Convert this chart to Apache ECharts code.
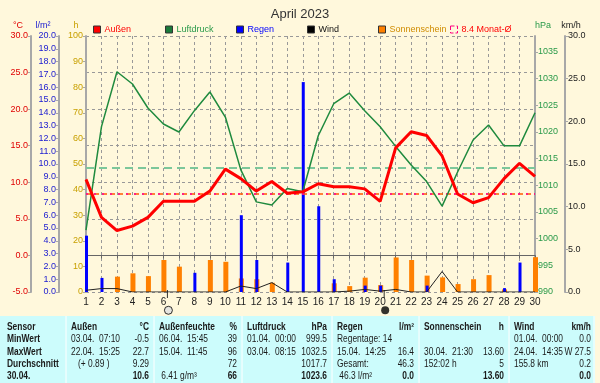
<!DOCTYPE html>
<html><head><meta charset="utf-8">
<script src="https://cdn.jsdelivr.net/npm/echarts@6/dist/echarts.min.js"></script>
<style>html,body{margin:0;padding:0;background:#fff8dc;}#c{width:600px;height:383px;}</style>
</head><body><div id="c"></div>
<script>
// ---------- data ----------
const days = ['1','2','3','4','5','6','7','8','9','10','11','12','13','14','15','16','17','18','19','20','21','22','23','24','25','26','27','28','29','30'];
const tempOut = [10.4,5.2,3.4,4.0,5.2,7.4,7.4,7.4,8.8,11.8,10.5,8.8,10.1,8.5,8.7,9.8,9.4,9.4,9.1,7.4,14.7,16.9,16.4,13.6,8.4,7.2,7.9,10.5,12.6,10.8];
const pressure = [1001.6,1021.0,1031.3,1029.0,1024.5,1021.5,1020.0,1024.0,1027.5,1022.8,1012.9,1006.9,1006.3,1009.4,1008.8,1019.3,1025.3,1027.3,1024.0,1021.0,1017.3,1013.8,1010.7,1006.1,1012.5,1018.5,1021.3,1017.4,1017.4,1023.6];
const rain = [4.4,1.1,0,0,0,0,0,1.5,0,0,6.0,2.5,0,2.3,16.4,6.7,1.0,0,0.5,0.5,0,0,0.5,0,0,0,0,0.3,2.3,0];
const sunshine = [0,0,6.0,7.3,6.2,12.5,9.9,0,12.5,11.8,5.3,5.0,3.6,0,0,0,3.4,2.3,5.6,2.7,13.5,12.5,6.4,5.7,3.1,5.0,6.6,1.0,0,13.6];
const wind = [0.2,0.4,0.4,0,0,0,0,0,0,0,0.7,0.4,1.1,0,0,0,0,0.1,0.3,0.1,0.3,0,0,2.4,0,0,0,0,0,0];
const monthMean = 8.4;
const stdPressure = 1013.25;
const fullMoonDay = '6';
const newMoonDay = '20';
const seriesNames = ['Außen','Luftdruck','Regen','Wind','Sonnenschein','8.4 Monat-Ø'];
const titleText = 'April 2023';
const tableHead = [['Sensor',''],['Außen','°C'],['Außenfeuchte','%'],['Luftdruck','hPa'],['Regen','l/m²'],['Sonnenschein','h'],['Wind','km/h']];
const tableRows = [
 [['MinWert',''],['03.04.  07:10','-0.5'],['06.04.  15:45','39'],['01.04.  00:00','999.5'],['Regentage: 14',''],['',''],['01.04.  00:00','0.0']],
 [['MaxWert',''],['22.04.  15:25','22.7'],['15.04.  11:45','96'],['03.04.  08:15','1032.5'],['15.04.  14:25','16.4'],['30.04.  21:30','13.60'],['24.04.  14:35','W 27.5']],
 [['Durchschnitt',''],['   (+ 0.89 )','9.29'],['','72'],['','1017.7'],['Gesamt:','46.3'],['152:02 h','5'],['155.8 km','0.2']],
 [['30.04.',''],['','10.6'],[' 6.41 g/m³','66'],['','1023.6'],[' 46.3 l/m²','0.0'],['','13.60'],['','0.0']]
];

// ---------- styling / layout ----------
const F = "'Liberation Sans',Arial,sans-serif";
const C = {temp:'#ff0000', press:'#1f8a3e', rain:'#0000ff', wind:'#222222', sun:'#ff8000', mean:'#ff0080'};
const colL = [0,66,154,242,332,419,509], colR = [66,154,242,332,419,509,594];
const rowY = [327,339.5,352,364,376.5];

function yax(o){
  return Object.assign({type:'value',
    axisLine:{show:true,lineStyle:{color:'#a8a8a8',width:2}},
    axisTick:{show:true,length:3,lineStyle:{color:'#a8a8a8'}},
    splitLine:{show:false},
    nameLocation:'end', nameGap:6,
  }, o);
}
const lbl = (color, fmt) => ({fontSize:9, fontFamily:F, color, margin:3, formatter:fmt});

const graphics = [];
graphics.push({type:'rect', shape:{x:0,y:316,width:595,height:67}, style:{fill:'#ccfcfc'}, z:1});
colR.forEach(x => graphics.push({type:'line', shape:{x1:x,y1:316,x2:x,y2:383}, style:{stroke:'#ffffff',lineWidth:1}, z:2}));
function cellText(t, x, y, align, bold){
  if(!t) return;
  graphics.push({type:'text', x, y, z:3, scaleX:0.84, style:{text:t, x:0, y:0, align, verticalAlign:'middle',
    font:(bold?'bold ':'')+'10px '+F, fill:'#1a1a1a'}});
}
tableHead.forEach((c,i)=>{
  cellText(c[0], colL[i]+(i===0?7:5), rowY[0], 'left', true);
  cellText(c[1], colR[i]-(i===6?3:5), rowY[0], 'right', true);
});
tableRows.forEach((r,ri)=>{
  const last = ri===tableRows.length-1;
  r.forEach((c,i)=>{
    cellText(c[0], colL[i]+(i===0?7:5), rowY[ri+1], 'left', i===0);
    cellText(c[1], colR[i]-(i===6?3:5), rowY[ri+1], 'right', last);
  });
});

const legendPos = [93,165,236,307,378,450];
const legendColors = [C.temp,'#2a9a4a',C.rain,'#111',"#d08c00",C.temp];
const legends = seriesNames.map((n,i)=>({
  data:[n], left:legendPos[i], top:25, padding:0, itemWidth:7, itemHeight:7, itemGap:0, icon:'rect',
  textStyle:{fontSize:9, fontFamily:F, color:legendColors[i], padding:[0,0,0,-1]},
  itemStyle: i===5 ? {color:'rgba(0,0,0,0)', borderColor:C.mean, borderWidth:1, borderType:'dashed'}
                   : {borderColor:'#333', borderWidth:1},
  selectedMode:false
}));

const option = {
  backgroundColor:'#fff8dc',
  animation:false,
  title:{text:titleText, left:'center', top:3, textStyle:{fontSize:13, fontWeight:'normal', color:'#333', fontFamily:F}},
  legend: legends,
  grid:{left:86, right:65, top:36, bottom:91, show:false},
  xAxis:{type:'category', data:days, boundaryGap:false,
    axisLine:{lineStyle:{color:'#666',width:1}},
    axisTick:{show:true, length:3, lineStyle:{color:'#666'}},
    axisLabel:{fontSize:10, fontFamily:F, color:'#222', margin:5, interval:0},
    splitLine:{show:true, lineStyle:{color:'#999', type:[3,3], width:1}}
  },
  yAxis:[
    yax({min:-5,max:30,interval:5,position:'left',offset:55, name:'°C',
      nameTextStyle:{color:'#e00000',fontSize:9,fontFamily:F,padding:[0,26,0,0]},
      axisLabel:lbl('#e00000', v=>v.toFixed(1)),
      splitLine:{show:true,lineStyle:{color:'#999',type:[3,3],width:1}}}),
    yax({min:0,max:20,interval:1,position:'left',offset:27, name:'l/m²',
      nameTextStyle:{color:'#1a1ad0',fontSize:9,fontFamily:F,padding:[0,32,0,0]},
      axisLabel:lbl('#1a1ad0', v=>v.toFixed(1))}),
    yax({min:0,max:100,interval:10,position:'left',offset:0, name:'h',
      nameTextStyle:{color:'#c8a000',fontSize:9,fontFamily:F,padding:[0,20,0,0]},
      axisLabel:lbl('#c8a000', v=>String(v))}),
    yax({min:990,max:1038,interval:5,position:'right',offset:0, name:'hPa',
      nameTextStyle:{color:'#2a9a4a',fontSize:9,fontFamily:F,padding:[0,0,0,16]},
      axisLabel:Object.assign(lbl('#2a9a4a', v=>String(v)),{showMaxLabel:false})}),
    yax({min:0,max:30,interval:5,position:'right',offset:30, name:'km/h',
      nameTextStyle:{color:'#222',fontSize:9,fontFamily:F,padding:[0,0,0,12]},
      axisLabel:lbl('#222', v=>v.toFixed(1))})
  ],
  series:[
    {name:'Sonnenschein', type:'bar', yAxisIndex:2, data:sunshine, barWidth:5, barGap:'-80%',
      itemStyle:{color:C.sun}, z:2},
    {name:'Regen', type:'bar', yAxisIndex:1, data:rain, barWidth:3,
      itemStyle:{color:C.rain}, z:3},
    {name:'Wind', type:'line', yAxisIndex:4, data:wind, symbol:'none',
      lineStyle:{color:C.wind,width:1}, itemStyle:{color:'#000'}, z:4},
    {name:'Luftdruck', type:'line', yAxisIndex:3, data:pressure, symbol:'none',
      lineStyle:{color:C.press,width:1.5}, itemStyle:{color:'#1a7a3a'}, z:5,
      markLine:{silent:true, symbol:'none', label:{show:false},
        data:[{yAxis:stdPressure}], lineStyle:{color:'#7cc79a',type:[8,5],width:2}}},
    {name:'8.4 Monat-Ø', type:'line', yAxisIndex:0, data:[], symbol:'none', itemStyle:{color:C.mean}, z:6,
      markLine:{silent:true, symbol:'none', label:{show:false},
        data:[{yAxis:monthMean, lineStyle:{color:'#ff5a00',type:[5,3],width:1.5}},
              {yAxis:monthMean, lineStyle:{color:'#ff00a0',type:[2,6],width:1.5}}]}},
    {name:'Außen', type:'line', yAxisIndex:0, data:tempOut, symbol:'none',
      lineStyle:{color:C.temp,width:3}, itemStyle:{color:C.temp}, z:7},
    {name:'moonTick', type:'scatter', yAxisIndex:0, clip:false, silent:true,
      data:[[fullMoonDay,-5],[newMoonDay,-5]], symbol:'rect', symbolSize:[1,8], symbolOffset:[4,2],
      itemStyle:{color:'#000'}, z:8},
    {name:'fullMoon', type:'scatter', yAxisIndex:0, clip:false, silent:true,
      data:[[fullMoonDay,-7.5]], symbol:'circle', symbolSize:8, symbolOffset:[5,0],
      itemStyle:{color:'#e0e0e0', borderColor:'#000', borderWidth:1}, z:8},
    {name:'newMoon', type:'scatter', yAxisIndex:0, clip:false, silent:true,
      data:[[newMoonDay,-7.5]], symbol:'circle', symbolSize:8, symbolOffset:[5,0],
      itemStyle:{color:'#000'}, z:8}
  ],
  graphic: graphics
};
const chart = echarts.init(document.getElementById('c'));
chart.setOption(option);
</script></body></html>
